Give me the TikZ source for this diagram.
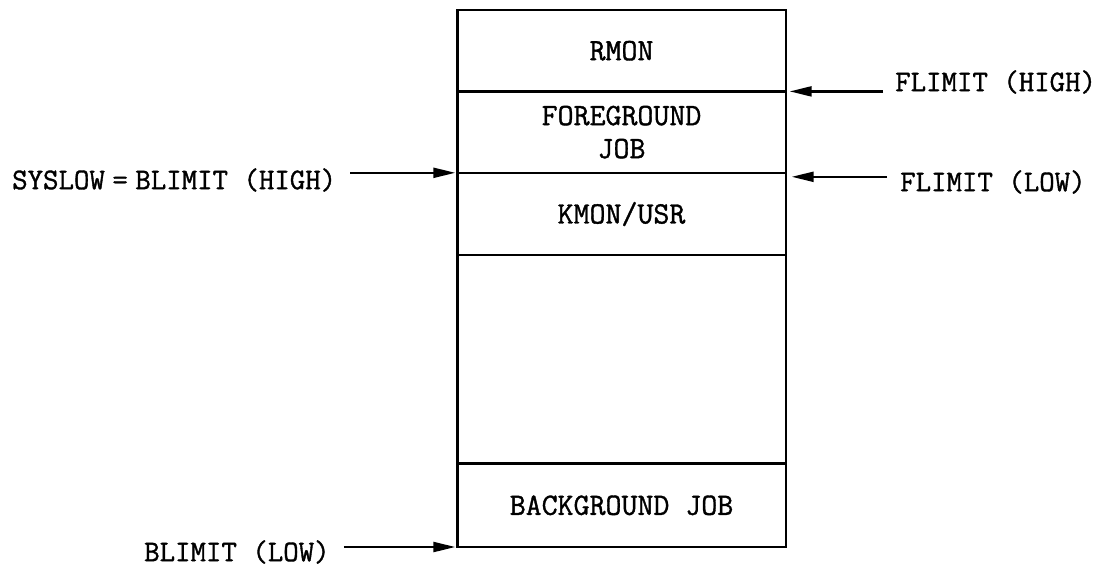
\documentclass[tikz,border=0pt]{standalone}
\usepackage{fontspec}
\newfontfamily\heavytt{Latin Modern Mono}[FakeBold=1.2]
\usetikzlibrary{arrows.meta}
\tikzset{
  seg/.style={minimum width=328pt, inner sep=0pt, anchor=north,
    font=\heavytt\fontsize{31}{31}\selectfont, align=center},
  lbl/.style={inner sep=0pt, anchor=west, font=\heavytt\fontsize{30}{34}\selectfont},
  boxline/.style={line width=2.4pt},
  arr/.style={line width=2.2pt, -{Triangle[length=22pt,width=10pt]}}
}
\begin{document}
\begin{tikzpicture}[x=1pt,y=-1pt]
\useasboundingbox (0,0) rectangle (1107,566);
\node[seg, minimum height=81pt] (rmon) at (621.5,10) {RMON};
\node[seg, minimum height=81pt] (fg) at (rmon.south) {FOREGROUND\\[2pt]JOB};
\node[seg, minimum height=82pt] (kmon) at (fg.south) {KMON/USR};
\node[seg, minimum height=208pt] (free) at (kmon.south) {};
\node[seg, minimum height=83pt] (bg) at (free.south) {BACKGROUND JOB};
\draw[boxline] (rmon.north west) rectangle (bg.south east);
\draw[boxline] (rmon.south west) -- (rmon.south east);
\draw[boxline] (fg.south west) -- (fg.south east);
\draw[boxline] (kmon.south west) -- (kmon.south east);
\draw[boxline] (free.south west) -- (free.south east);
\node[lbl] (sys) at (12,180) {SYSLOW\hspace{0.25em}=\hspace{0.25em}BLIMIT (HIGH)};
\node[lbl] (fh) at (895,82) {FLIMIT (HIGH)};
\node[lbl] (fl) at (900,182) {FLIMIT (LOW)};
\node[lbl] (bl) at (144,552) {BLIMIT (LOW)};
\draw[arr] ([xshift=14pt]sys.east |- fg.south west) -- ([xshift=-2pt]fg.south west);
\draw[arr] ([xshift=-12pt]fh.west |- rmon.south east) -- ([xshift=4pt]rmon.south east);
\draw[arr] ([xshift=-13pt,yshift=-4pt]fl.west |- fg.south east) -- ([xshift=6pt,yshift=-4pt]fg.south east);
\draw[arr] ([xshift=14pt]bl.east |- bg.south west) -- ([xshift=-2pt]bg.south west);
\end{tikzpicture}
\end{document}
